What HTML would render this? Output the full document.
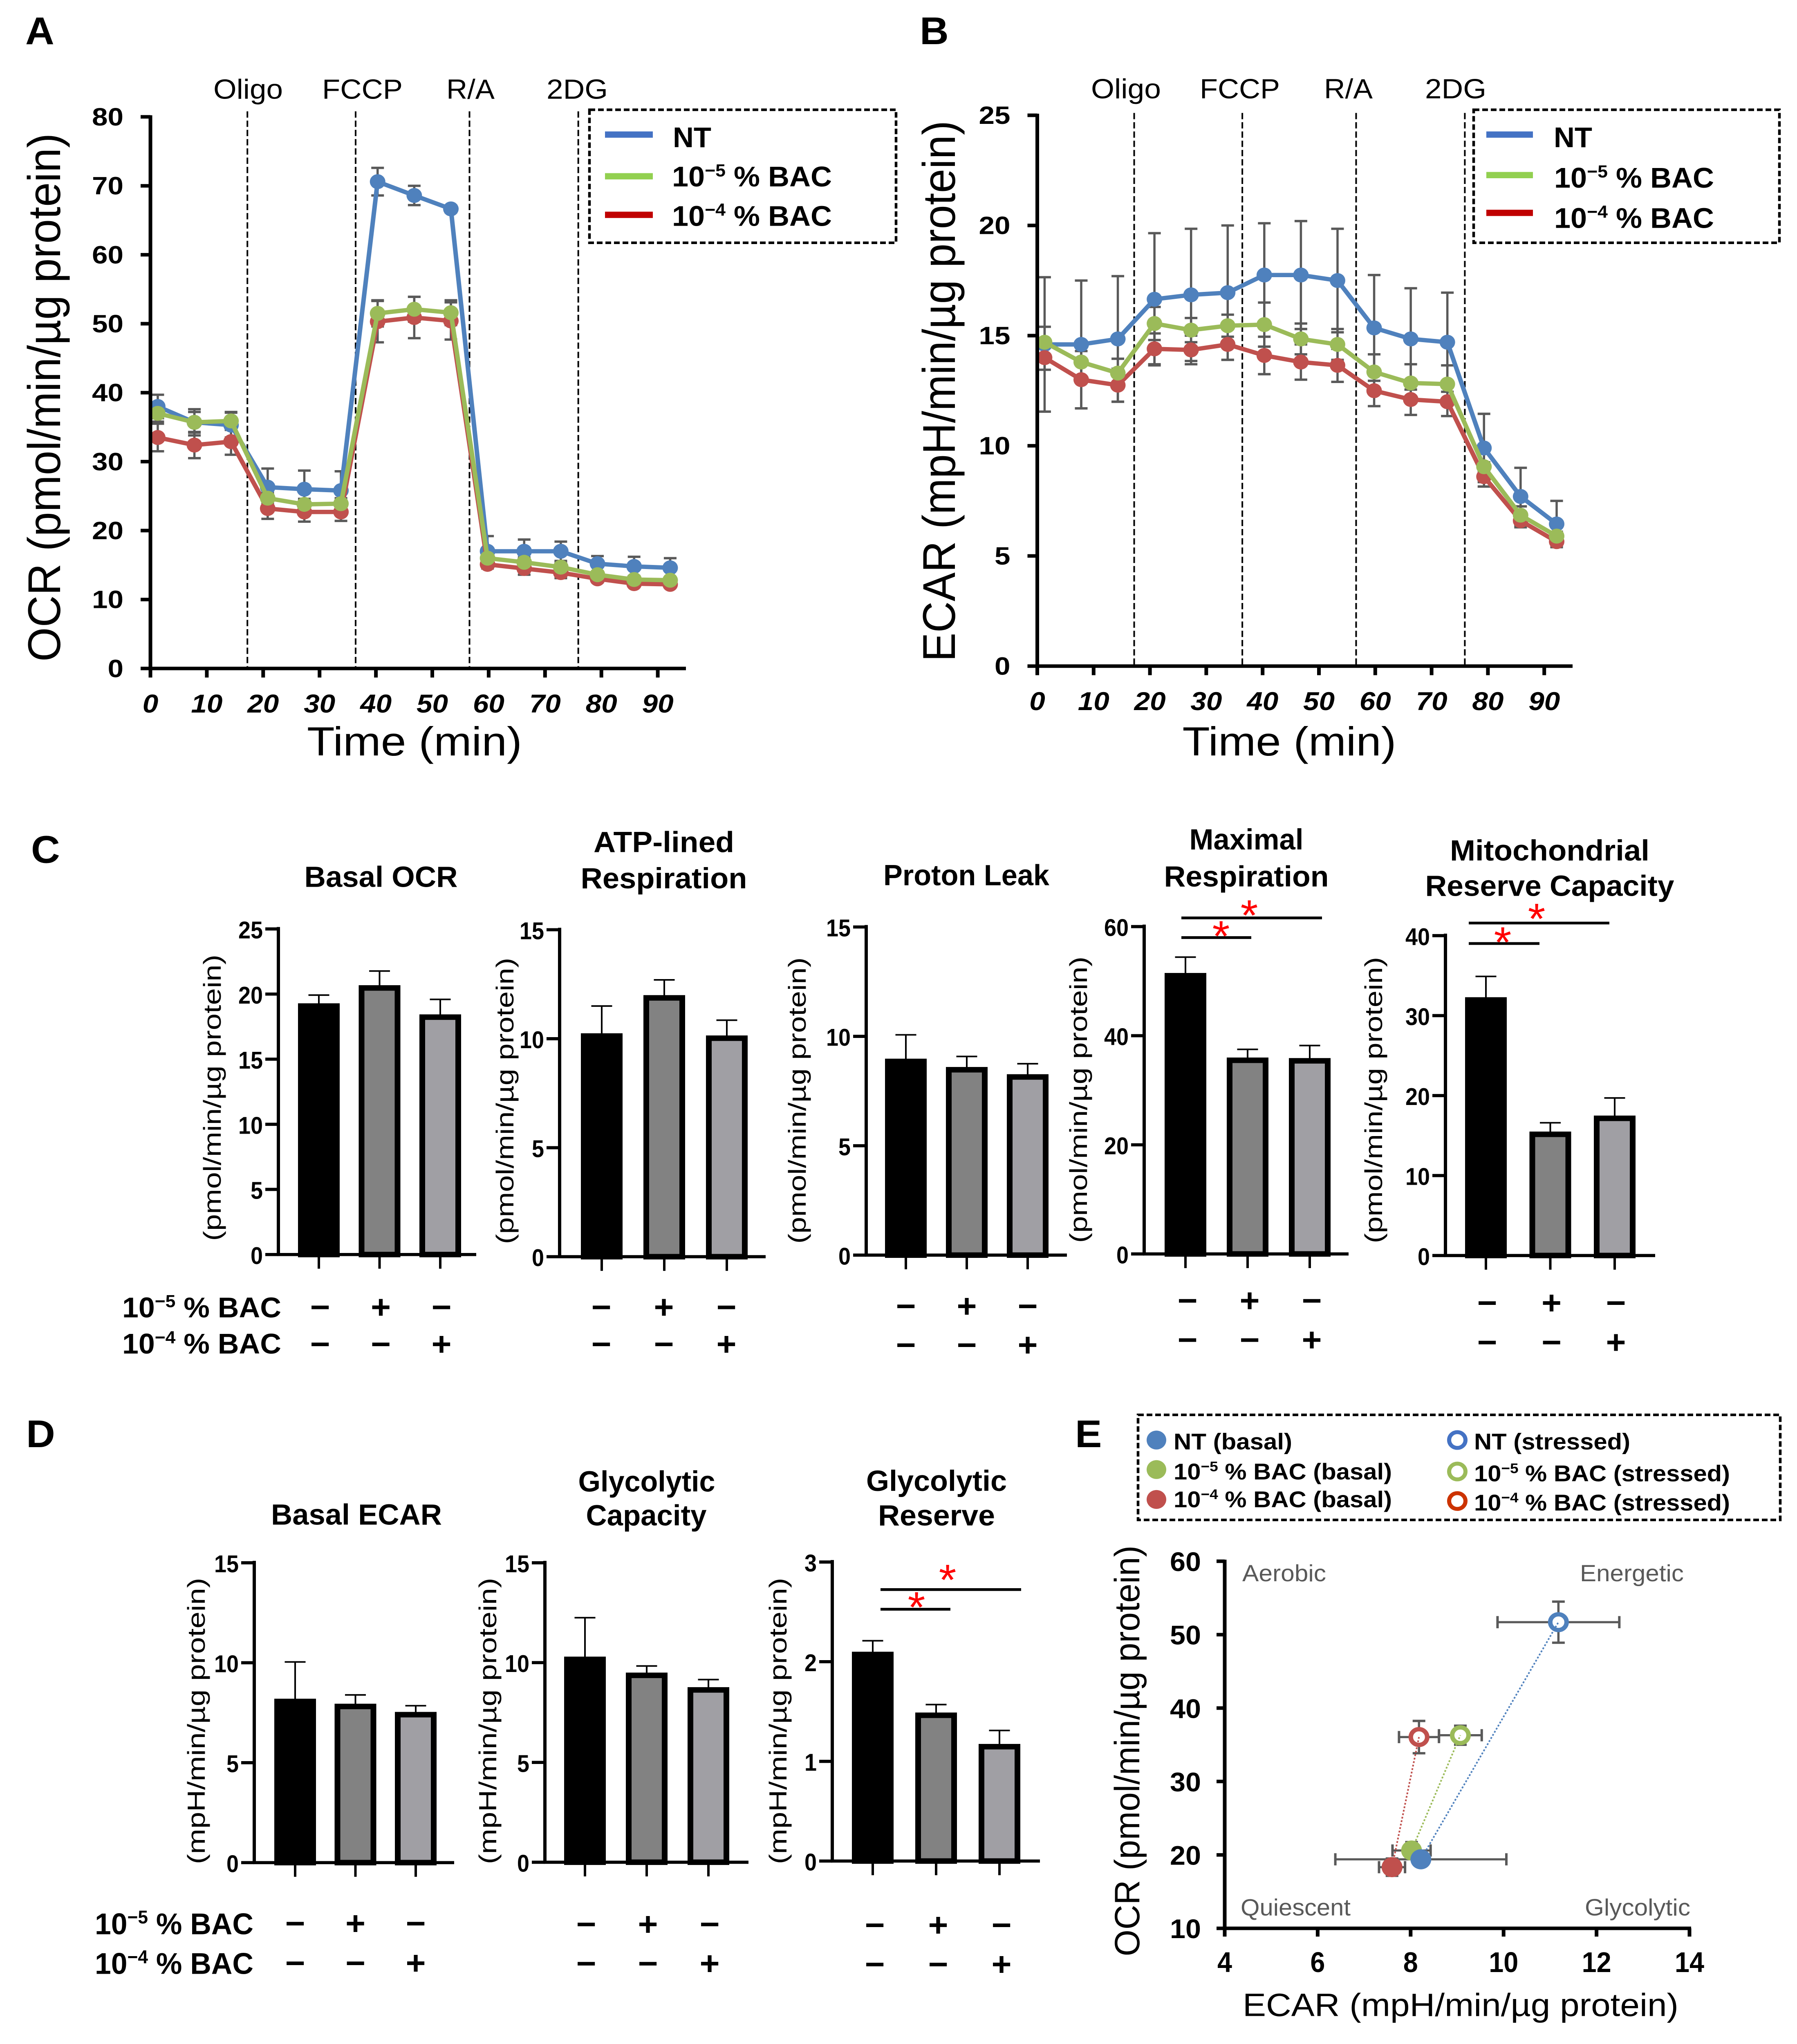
<!DOCTYPE html>
<html lang="en">
<head>
<meta charset="utf-8">
<title>Mitochondrial respiration and glycolysis figure</title>
<style>
html,body{margin:0;padding:0;background:#fff;width:100%;height:100%;overflow:hidden}
svg{display:block;position:fixed;left:0;top:0;width:100vw;height:100vh;font-family:"Liberation Sans",Arial,sans-serif}
</style>
</head>
<body>
<svg id="figure" xmlns="http://www.w3.org/2000/svg" viewBox="0 0 4396 5195" preserveAspectRatio="none">
<rect x="0" y="0" width="4396" height="5195" fill="#fff"/>
</svg>
<script>
/* ---------- Panel A / B data ---------- */
const timeMinutes = [1.3, 7.8, 14.3, 20.8, 27.3, 33.8, 40.3, 46.8, 53.3, 59.8, 66.3, 72.8, 79.3, 85.8, 92.2];
const injectionTimes = [17.2, 36.4, 56.6, 75.9];
const injectionNames = ['Oligo', 'FCCP', 'R/A', '2DG'];
const timeTicks = [0, 10, 20, 30, 40, 50, 60, 70, 80, 90];
const ocrTicks = [0, 10, 20, 30, 40, 50, 60, 70, 80];
const ecarTicks = [0, 5, 10, 15, 20, 25];

const ocrNt = [38, 35.7, 35.3, 26.3, 26, 25.8, 70.6, 68.6, 66.65, 17, 17, 17, 15.2, 14.8, 14.6];
const ocrNtErr = [1.7, 1.9, 1.8, 2.7, 2.7, 2.8, 2, 1.4, 0.5, 2.2, 1.7, 1.4, 1.1, 1.4, 1.4];
const ocrLow = [37, 35.7, 35.9, 24.7, 23.8, 23.9, 51.5, 52.1, 51.6, 16, 15.4, 14.7, 13.6, 12.9, 12.8];
const ocrLowErr = [1.2, 1.5, 1.3, 0.8, 0.8, 0.8, 1.9, 1.8, 1.8, 0.8, 0.7, 0.7, 0.5, 0.5, 0.4];
const ocrHigh = [33.5, 32.4, 32.9, 23.2, 22.7, 22.7, 50.3, 50.9, 50.4, 15.1, 14.5, 13.9, 13, 12.3, 12.2];
const ocrHighErr = [2, 1.9, 1.9, 1.5, 1.4, 1.3, 3, 3, 2.7, 0.6, 0.9, 0.8, 0.5, 0.4, 0.4];

const ecarNt = [14.6, 14.6, 14.85, 16.65, 16.85, 16.95, 17.75, 17.75, 17.5, 15.35, 14.85, 14.7, 9.9, 7.7, 6.45];
const ecarNtErr = [3.05, 2.9, 2.85, 3, 3, 3.05, 2.35, 2.45, 2.35, 2.4, 2.3, 2.25, 1.55, 1.3, 1.05];
const ecarLow = [14.7, 13.8, 13.3, 15.55, 15.25, 15.45, 15.5, 14.85, 14.6, 13.35, 12.85, 12.8, 9.05, 6.85, 5.9];
const ecarLowErr = [0.7, 0.7, 0.65, 0.75, 0.55, 0.5, 1, 0.7, 0.7, 0.8, 0.85, 0.85, 0.2, 0.4, 0.2];
const ecarHigh = [14, 13, 12.75, 14.4, 14.35, 14.6, 14.1, 13.8, 13.65, 12.5, 12.1, 12, 8.6, 6.6, 5.65];
const ecarHighErr = [0.55, 1.3, 0.75, 0.7, 0.65, 0.7, 0.85, 0.8, 0.75, 0.7, 0.7, 0.65, 0.45, 0.3, 0.25];

/* ---------- Panel C / D data ---------- */
const lowBacSigns = ['−', '+', '−'];
const highBacSigns = ['−', '−', '+'];

const basalOcrValues = [19.29, 20.68, 18.44];
const basalOcrErrors = [0.63, 1.09, 1.15];
const basalOcrTicks = [0, 5, 10, 15, 20, 25];

const atpValues = [10.25, 12, 10.15];
const atpErrors = [1.25, 0.7, 0.7];
const atpTicks = [0, 5, 10, 15];

const protonValues = [8.98, 8.6, 8.27];
const protonErrors = [1.09, 0.48, 0.48];
const protonTicks = [0, 5, 10, 15];

const maximalValues = [51.5, 36, 35.9];
const maximalErrors = [2.9, 1.5, 2.3];
const maximalTicks = [0, 20, 40, 60];

const reserveCapValues = [32.3, 15.5, 17.5];
const reserveCapErrors = [2.6, 1.1, 2.2];
const reserveCapTicks = [0, 10, 20, 30, 40];

const basalEcarValues = [8.2, 7.95, 7.54];
const basalEcarErrors = [1.84, 0.44, 0.31];
const basalEcarTicks = [0, 5, 10, 15];

const glycoCapValues = [10.3, 9.5, 8.77];
const glycoCapErrors = [1.95, 0.33, 0.38];
const glycoCapTicks = [0, 5, 10, 15];

const glycoResValues = [2.1, 1.49, 1.175];
const glycoResErrors = [0.11, 0.08, 0.135];
const glycoResTicks = [0, 1, 2, 3];

/* ---------- Panel E data ---------- */
const energyNames = ['nt', 'low-bac', 'high-bac'];
const ecarBasal = [8.22, 8.02, 7.6];
const ecarBasalErr = [1.84, 0.41, 0.28];
const ocrBasal = [19.4, 20.6, 18.33];
const ocrBasalErr = [0.65, 1.15, 1.18];
const ecarStressed = [11.18, 9.07, 8.18];
const ecarStressedErr = [1.31, 0.46, 0.43];
const ocrStressed = [51.7, 36.3, 36.05];
const ocrStressedErr = [2.8, 1.3, 2.2];
const energyXTicks = [4, 6, 8, 10, 12, 14];
const energyYTicks = [10, 20, 30, 40, 50, 60];

/* ---------- Drawing helpers ---------- */
const NS = 'http://www.w3.org/2000/svg';
const root = document.getElementById('figure');

function mk(tag, name, attrs) {
  const el = document.createElementNS(NS, tag);
  
  
  for (const k in attrs) el.setAttribute(k, attrs[k]);
  root.appendChild(el);
  return el;
}
function line(name, x1, y1, x2, y2, color, width, dash) {
  const a = {x1: x1, y1: y1, x2: x2, y2: y2, stroke: color, 'stroke-width': width};
  if (dash) a['stroke-dasharray'] = dash;
  return mk('line', name, a);
}
function text(name, str, x, y, size, o) {
  o = o || {};
  const a = {x: x, y: y, 'font-size': size, fill: o.fill || '#000'};
  if (o.bold) a['font-weight'] = 'bold';
  if (o.italic) a['font-style'] = 'italic';
  if (o.anchor) a['text-anchor'] = o.anchor;
  if (o.len) { a.textLength = o.len; a.lengthAdjust = 'spacingAndGlyphs'; }
  if (o.rot) a.transform = 'rotate(-90 ' + x + ' ' + y + ')';
  const el = mk('text', name, a);
  el.textContent = str;
  return el;
}
function bacText(name, exp, suffix, x, y, size, len) {
  const el = mk('text', name, {x: x, y: y, 'font-size': size, 'font-weight': 'bold', fill: '#000', textLength: len, lengthAdjust: 'spacingAndGlyphs'});
  const a = document.createElementNS(NS, 'tspan');
  a.textContent = '10';
  el.appendChild(a);
  const b = document.createElementNS(NS, 'tspan');
  b.setAttribute('font-size', size * 0.62);
  b.setAttribute('dy', -size * 0.36);
  b.textContent = exp;
  el.appendChild(b);
  const c = document.createElementNS(NS, 'tspan');
  c.setAttribute('dy', size * 0.36);
  c.textContent = suffix;
  el.appendChild(c);
  return el;
}
function dashedBox(name, x1, y1, x2, y2) {
  return mk('rect', name, {x: x1, y: y1, width: x2 - x1, height: y2 - y1, fill: '#fff', stroke: '#000', 'stroke-width': 6.5, 'stroke-dasharray': '14 7'});
}

/* ---------- Panels A and B ---------- */
function lineChart(c) {
  const X = t => c.left + t * c.xUnit;
  const Y = v => c.bottom - v / c.yMax * (c.bottom - c.top);

  injectionTimes.forEach((t, i) => {
    line(c.id + '-injection-line-' + injectionNames[i].toLowerCase().replace('/', ''), X(t), c.dashTop, X(t), c.bottom, '#000', 4, '16 7.5');
  });
  injectionNames.forEach((n, i) => {
    const p = c.injectionLabels[i];
    text(c.id + '-injection-label-' + n.toLowerCase().replace('/', ''), n, p.x, c.annotY, 70, {len: p.len});
  });

  c.series.forEach(s => {
    s.values.forEach((v, i) => {
      const hi = Y(v + s.errors[i]), lo = Y(v - s.errors[i]), x = X(timeMinutes[i]);
      line(c.id + '-' + s.name + '-error-stem', x, hi, x, lo, '#595959', 5.5);
      line(c.id + '-' + s.name + '-error-cap', x - 15.5, hi, x + 15.5, hi, '#595959', 6);
      line(c.id + '-' + s.name + '-error-cap', x - 15.5, lo, x + 15.5, lo, '#595959', 6);
    });
  });
  c.series.forEach(s => {
    const pts = s.values.map((v, i) => X(timeMinutes[i]) + ',' + Y(v)).join(' ');
    mk('polyline', c.id + '-' + s.name + '-line', {points: pts, fill: 'none', stroke: s.color, 'stroke-width': 11});
    s.values.forEach((v, i) => {
      mk('circle', c.id + '-' + s.name + '-point', {cx: X(timeMinutes[i]), cy: Y(v), r: 19, fill: s.color});
    });
  });

  line(c.id + '-y-axis', c.left, c.top - 4, c.left, c.bottom + 4, '#000', 9);
  line(c.id + '-x-axis', c.left - 4, c.bottom, c.right, c.bottom, '#000', 9);
  c.yTicks.forEach(v => {
    line(c.id + '-y-tick', c.left - 24, Y(v), c.left, Y(v), '#000', 9);
    const s = String(v);
    text(c.id + '-y-tick-label', s, c.left - 66, Y(v) + 22, 64, {bold: true, anchor: 'end', len: s.length * 38.5});
  });
  timeTicks.forEach(v => {
    line(c.id + '-x-tick', X(v), c.bottom, X(v), c.bottom + 23, '#000', 9);
    const s = String(v);
    text(c.id + '-x-tick-label', s, X(v), c.xLabelY, 66, {bold: true, italic: true, anchor: 'middle', len: s.length * 38.5});
  });
}

lineChart({
  id: 'ocr-chart', left: 368, right: 1678, top: 297, bottom: 1699, dashTop: 283, xUnit: 13.79, yMax: 80,
  yTicks: ocrTicks, xLabelY: 1811, annotY: 251,
  injectionLabels: [{x: 522, len: 170}, {x: 788, len: 197}, {x: 1092, len: 118}, {x: 1337, len: 150}],
  series: [
    {name: 'nt', color: '#4f81bd', values: ocrNt, errors: ocrNtErr},
    {name: 'high-bac', color: '#c0504d', values: ocrHigh, errors: ocrHighErr},
    {name: 'low-bac', color: '#9bbb59', values: ocrLow, errors: ocrLowErr}
  ]
});
lineChart({
  id: 'ecar-chart', left: 2537.5, right: 3847, top: 293, bottom: 1693, dashTop: 287, xUnit: 13.78, yMax: 25,
  yTicks: ecarTicks, xLabelY: 1805, annotY: 250,
  injectionLabels: [{x: 2669, len: 171}, {x: 2935, len: 196}, {x: 3239, len: 119}, {x: 3486, len: 150}],
  series: [
    {name: 'nt', color: '#4f81bd', values: ecarNt, errors: ecarNtErr},
    {name: 'high-bac', color: '#c0504d', values: ecarHigh, errors: ecarHighErr},
    {name: 'low-bac', color: '#9bbb59', values: ecarLow, errors: ecarLowErr}
  ]
});

text('panel-label-a', 'A', 62, 112, 98, {bold: true});
text('panel-label-b', 'B', 2250, 112, 98, {bold: true});
text('ocr-y-axis-title', 'OCR (pmol/min/µg protein)', 147, 1010, 112, {anchor: 'middle', rot: true, len: 1343});
text('ecar-y-axis-title', 'ECAR (mpH/min/µg protein)', 2336, 994, 112, {anchor: 'middle', rot: true, len: 1375});
text('ocr-x-axis-title', 'Time (min)', 1014, 1920, 103, {anchor: 'middle', len: 526});
text('ecar-x-axis-title', 'Time (min)', 3154, 1920, 103, {anchor: 'middle', len: 523});

dashedBox('ocr-legend-box', 1442, 279, 2192, 617);
line('ocr-legend-line-nt', 1480, 342, 1597, 342, '#4472c4', 16);
line('ocr-legend-line-low-bac', 1480, 448, 1597, 448, '#92d050', 16);
line('ocr-legend-line-high-bac', 1480, 546, 1597, 546, '#c00000', 16);
text('ocr-legend-label-nt', 'NT', 1646, 374, 72, {bold: true, len: 94});
bacText('ocr-legend-label-low-bac', '−5', ' % BAC', 1644, 474, 72, 391);
bacText('ocr-legend-label-high-bac', '−4', ' % BAC', 1644, 574, 72, 391);

dashedBox('ecar-legend-box', 3605, 279, 4353, 617);
line('ecar-legend-line-nt', 3636, 342, 3750, 342, '#4472c4', 16);
line('ecar-legend-line-low-bac', 3636, 445, 3750, 445, '#92d050', 16);
line('ecar-legend-line-high-bac', 3636, 541, 3750, 541, '#c00000', 16);
text('ecar-legend-label-nt', 'NT', 3801, 374, 72, {bold: true, len: 94});
bacText('ecar-legend-label-low-bac', '−5', ' % BAC', 3802, 477, 72, 391);
bacText('ecar-legend-label-high-bac', '−4', ' % BAC', 3802, 579, 72, 391);

/* ---------- Panels C and D ---------- */
const barFills = ['#000000', '#828282', '#a09fa4'];
function barChart(c) {
  const Y = v => c.bottom - v / c.yMax * (c.bottom - c.top);
  const X = i => c.xStart + i * c.xStep;
  c.values.forEach((v, i) => {
    const x = X(i), t = Y(v + c.errors[i]);
    line(c.id + '-error-stem-' + i, x, t, x, Y(v) + 4, '#000', 4);
    line(c.id + '-error-cap-' + i, x - 25.5, t, x + 25.5, t, '#000', 4);
    mk('rect', c.id + '-bar-' + i, {x: x - 44, y: Y(v) + 7, width: 88, height: c.bottom - Y(v) - 7, fill: barFills[i], stroke: '#000', 'stroke-width': 14});
  });
  line(c.id + '-y-axis', c.left, c.top - 5, c.left, c.bottom + 3, '#000', 8);
  line(c.id + '-x-axis', c.left - 3, c.bottom, c.right, c.bottom, '#000', 8);
  c.ticks.forEach(v => {
    line(c.id + '-y-tick', c.left - 32, Y(v), c.left, Y(v), '#000', 8);
    const s = String(v);
    text(c.id + '-y-tick-label', s, c.left - 38, Y(v) + 24, 62, {bold: true, anchor: 'end', len: s.length * 30});
  });
  c.values.forEach((v, i) => {
    line(c.id + '-x-tick-' + i, X(i), c.bottom, X(i), c.bottom + 36, '#000', 6);
  });
  lowBacSigns.forEach((s, i) => {
    text(c.id + '-low-bac-sign-' + i, s, X(i) + c.signDx, c.row1 + 28, 84, {bold: true, anchor: 'middle'});
  });
  highBacSigns.forEach((s, i) => {
    text(c.id + '-high-bac-sign-' + i, s, X(i) + c.signDx, c.row2 + 28, 84, {bold: true, anchor: 'middle'});
  });
  text(c.id + '-y-axis-title', c.yTitle, c.titleX, c.titleY, 60, {anchor: 'middle', rot: true, len: 728});
}
function sigMark(name, x1, x2, y, sx, sy) {
  line(name + '-bracket', x1, y, x2, y, '#000', 7);
  text(name + '-star', '*', sx, sy + 55, 110, {anchor: 'middle', fill: '#f00'});
}

const pmolTitle = '(pmol/min/µg protein)';
const mphTitle = '(mpH/min/µg protein)';

barChart({id: 'basal-ocr', values: basalOcrValues, errors: basalOcrErrors, ticks: basalOcrTicks, yMax: 25,
  left: 681, right: 1165, top: 2361, bottom: 3188.5, xStart: 780, xStep: 148.5, signDx: 3, row1: 3323, row2: 3417,
  yTitle: pmolTitle, titleX: 540, titleY: 2790});
barChart({id: 'atp-respiration', values: atpValues, errors: atpErrors, ticks: atpTicks, yMax: 15,
  left: 1369, right: 1873, top: 2363, bottom: 3194, xStart: 1472, xStep: 153, signDx: -1, row1: 3323, row2: 3417,
  yTitle: pmolTitle, titleX: 1256, titleY: 2798});
barChart({id: 'proton-leak', values: protonValues, errors: protonErrors, ticks: protonTicks, yMax: 15,
  left: 2119, right: 2610, top: 2356, bottom: 3190, xStart: 2216, xStep: 149, signDx: 0, row1: 3320, row2: 3419,
  yTitle: pmolTitle, titleX: 1971, titleY: 2797});
barChart({id: 'maximal-respiration', values: maximalValues, errors: maximalErrors, ticks: maximalTicks, yMax: 60,
  left: 2799, right: 3299, top: 2355, bottom: 3187, xStart: 2900, xStep: 152, signDx: 5, row1: 3306, row2: 3406,
  yTitle: pmolTitle, titleX: 2659, titleY: 2795});
barChart({id: 'reserve-capacity', values: reserveCapValues, errors: reserveCapErrors, ticks: reserveCapTicks, yMax: 40,
  left: 3536, right: 4049, top: 2378, bottom: 3191, xStart: 3635, xStep: 157.5, signDx: 3, row1: 3312, row2: 3412,
  yTitle: pmolTitle, titleX: 3381, titleY: 2796});
barChart({id: 'basal-ecar', values: basalEcarValues, errors: basalEcarErrors, ticks: basalEcarTicks, yMax: 15,
  left: 622, right: 1111, top: 3972, bottom: 4734, xStart: 722, xStep: 147.5, signDx: 0, row1: 4889, row2: 4990,
  yTitle: mphTitle, titleX: 501, titleY: 4374});
barChart({id: 'glycolytic-capacity', values: glycoCapValues, errors: glycoCapErrors, ticks: glycoCapTicks, yMax: 15,
  left: 1333, right: 1831, top: 3972, bottom: 4733, xStart: 1431, xStep: 151, signDx: 3, row1: 4891, row2: 4991,
  yTitle: mphTitle, titleX: 1214, titleY: 4374});
barChart({id: 'glycolytic-reserve', values: glycoResValues, errors: glycoResErrors, ticks: glycoResTicks, yMax: 3,
  left: 2036, right: 2544, top: 3970, bottom: 4730, xStart: 2135, xStep: 155, signDx: 5, row1: 4893, row2: 4993,
  yTitle: mphTitle, titleX: 1924, titleY: 4374});

text('panel-label-c', 'C', 76, 2193, 98, {bold: true});
text('panel-label-d', 'D', 64, 3678, 98, {bold: true});

text('basal-ocr-title', 'Basal OCR', 932, 2254, 74, {bold: true, anchor: 'middle', len: 375});
text('atp-title-line-1', 'ATP-lined', 1624, 2166, 74, {bold: true, anchor: 'middle', len: 344});
text('atp-title-line-2', 'Respiration', 1624, 2258, 74, {bold: true, anchor: 'middle', len: 407});
text('proton-leak-title', 'Proton Leak', 2364, 2250, 74, {bold: true, anchor: 'middle', len: 406});
text('maximal-title-line-1', 'Maximal', 3049, 2159, 74, {bold: true, anchor: 'middle', len: 279});
text('maximal-title-line-2', 'Respiration', 3049, 2253, 74, {bold: true, anchor: 'middle', len: 403});
text('reserve-title-line-1', 'Mitochondrial', 3791, 2187, 74, {bold: true, anchor: 'middle', len: 488});
text('reserve-title-line-2', 'Reserve Capacity', 3791, 2277, 74, {bold: true, anchor: 'middle', len: 609});
text('basal-ecar-title', 'Basal ECAR', 872, 3875, 74, {bold: true, anchor: 'middle', len: 418});
text('glycolytic-capacity-title-line-1', 'Glycolytic', 1582, 3791, 74, {bold: true, anchor: 'middle', len: 335});
text('glycolytic-capacity-title-line-2', 'Capacity', 1581, 3877, 74, {bold: true, anchor: 'middle', len: 295});
text('glycolytic-reserve-title-line-1', 'Glycolytic', 2291, 3789, 74, {bold: true, anchor: 'middle', len: 344});
text('glycolytic-reserve-title-line-2', 'Reserve', 2291, 3877, 74, {bold: true, anchor: 'middle', len: 286});

bacText('panel-c-low-bac-row-label', '−5', ' % BAC', 299, 3348, 72, 389);
bacText('panel-c-high-bac-row-label', '−4', ' % BAC', 299, 3440, 72, 389);
bacText('panel-d-low-bac-row-label', '−5', ' % BAC', 232, 4916, 76, 388);
bacText('panel-d-high-bac-row-label', '−4', ' % BAC', 232, 5017, 76, 388);

sigMark('maximal-sig-high', 2890, 3234, 2333, 3056, 2309);
sigMark('maximal-sig-low', 2890, 3061, 2383, 2987, 2362);
sigMark('reserve-sig-high', 3593, 3937, 2346, 3759, 2318);
sigMark('reserve-sig-low', 3593, 3766, 2398, 3676, 2378);
sigMark('glycolytic-reserve-sig-high', 2154, 2498, 4040, 2318, 3998);
sigMark('glycolytic-reserve-sig-low', 2154, 2325, 4090, 2242, 4068);

/* ---------- Panel E ---------- */
const eLeft = 2996, eRight = 4133, eTop = 3968, eBottom = 4901;
const EX = v => eLeft + (v - 4) / 10 * (eRight - eLeft);
const EY = v => eBottom - (v - 10) / 50 * (eBottom - eTop);
const energyColors = ['#4f81bd', '#9bbb59', '#c0504d'];

dashedBox('energy-legend-box', 2784, 3596, 4355, 3863);
mk('circle', 'legend-marker-nt-basal', {cx: 2829, cy: 3660, r: 24, fill: '#4f81bd'});
mk('circle', 'legend-marker-low-bac-basal', {cx: 2829, cy: 3735, r: 24, fill: '#9bbb59'});
mk('circle', 'legend-marker-high-bac-basal', {cx: 2829, cy: 3811, r: 24, fill: '#c0504d'});
mk('circle', 'legend-marker-nt-stressed', {cx: 3565, cy: 3660, r: 20, fill: '#fff', stroke: '#4472c4', 'stroke-width': 10});
mk('circle', 'legend-marker-low-bac-stressed', {cx: 3565, cy: 3740, r: 20, fill: '#fff', stroke: '#9bbb59', 'stroke-width': 10});
mk('circle', 'legend-marker-high-bac-stressed', {cx: 3565, cy: 3815, r: 20, fill: '#fff', stroke: '#cc3300', 'stroke-width': 10});
text('legend-label-nt-basal', 'NT (basal)', 2871, 3684, 58, {bold: true, len: 290});
bacText('legend-label-low-bac-basal', '−5', ' % BAC (basal)', 2871, 3760, 58, 534);
bacText('legend-label-high-bac-basal', '−4', ' % BAC (basal)', 2871, 3831, 58, 534);
text('legend-label-nt-stressed', 'NT (stressed)', 3606, 3684, 58, {bold: true, len: 382});
bacText('legend-label-low-bac-stressed', '−5', ' % BAC (stressed)', 3606, 3765, 58, 626);
bacText('legend-label-high-bac-stressed', '−4', ' % BAC (stressed)', 3606, 3839, 58, 626);

text('quadrant-label-aerobic', 'Aerobic', 3039, 4019, 60, {fill: '#595959', len: 205});
text('quadrant-label-energetic', 'Energetic', 3865, 4019, 60, {fill: '#595959', len: 254});
text('quadrant-label-quiescent', 'Quiescent', 3035, 4868, 60, {fill: '#595959', len: 269});
text('quadrant-label-glycolytic', 'Glycolytic', 3877, 4868, 60, {fill: '#595959', len: 258});

function crossError(name, x, xe, y, ye) {
  const x0 = EX(x - xe), x1 = EX(x + xe), y0 = EY(y - ye), y1 = EY(y + ye), cx = EX(x), cy = EY(y);
  line(name + '-x-error', x0, cy, x1, cy, '#595959', 5.5);
  line(name + '-x-error-cap', x0, cy - 15.5, x0, cy + 15.5, '#595959', 6);
  line(name + '-x-error-cap', x1, cy - 15.5, x1, cy + 15.5, '#595959', 6);
  line(name + '-y-error', cx, y0, cx, y1, '#595959', 5.5);
  line(name + '-y-error-cap', cx - 15.5, y0, cx + 15.5, y0, '#595959', 6);
  line(name + '-y-error-cap', cx - 15.5, y1, cx + 15.5, y1, '#595959', 6);
}
energyNames.forEach((n, i) => {
  crossError('stressed-' + n, ecarStressed[i], ecarStressedErr[i], ocrStressed[i], ocrStressedErr[i]);
});
[2, 1, 0].forEach(i => {
  crossError('basal-' + energyNames[i], ecarBasal[i], ecarBasalErr[i], ocrBasal[i], ocrBasalErr[i]);
});
energyNames.forEach((n, i) => {
  mk('circle', 'stressed-point-' + n, {cx: EX(ecarStressed[i]), cy: EY(ocrStressed[i]), r: 20, fill: '#fff', stroke: energyColors[i], 'stroke-width': 11});
});
energyNames.forEach((n, i) => {
  line('energy-path-' + n, EX(ecarBasal[i]), EY(ocrBasal[i]), EX(ecarStressed[i]), EY(ocrStressed[i]), energyColors[i], 4, '4.5 4.5');
});
[1, 0, 2].forEach(i => {
  mk('circle', 'basal-point-' + energyNames[i], {cx: EX(ecarBasal[i]), cy: EY(ocrBasal[i]), r: 25.5, fill: energyColors[i]});
});

line('energy-y-axis', eLeft, eTop - 4, eLeft, eBottom + 4, '#000', 9);
line('energy-x-axis', eLeft - 4, eBottom, eRight + 4, eBottom, '#000', 9);
energyYTicks.forEach(v => {
  line('energy-y-tick', eLeft - 20, EY(v), eLeft, EY(v), '#000', 9);
  text('energy-y-tick-label', String(v), 2938, EY(v) + 25, 68, {bold: true, anchor: 'end', len: 76});
});
energyXTicks.forEach(v => {
  const s = String(v);
  line('energy-x-tick', EX(v), eBottom, EX(v), eBottom + 21, '#000', 9);
  text('energy-x-tick-label', s, EX(v), 5012, 72, {bold: true, anchor: 'middle', len: s.length * 36});
});
text('energy-y-axis-title', 'OCR (pmol/min/µg protein)', 2787, 4450, 86, {anchor: 'middle', rot: true, len: 1044});
text('energy-x-axis-title', 'ECAR (mpH/min/µg protein)', 3573, 5124, 82, {anchor: 'middle', len: 1066});
text('panel-label-e', 'E', 2630, 3678, 98, {bold: true});
</script>
</body>
</html>
